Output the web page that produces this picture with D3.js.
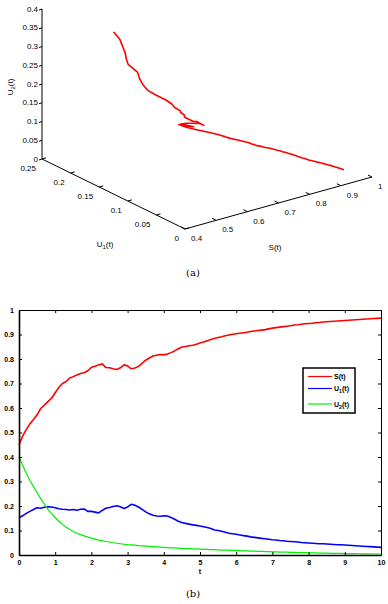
<!DOCTYPE html>
<html lang="en">

<head>
    <meta charset="utf-8">
    <script src="https://d3js.org/d3.v7.min.js"></script>
    <title>S(t), U1(t), U2(t)</title>
    <style>
        body {
            margin: 0;
            padding: 0;
            background: #fff;
        }

        text {
            font-family: "Liberation Sans", Arial, sans-serif;
            fill: #000;
        }

        .caption {
            font-family: "DejaVu Serif", "Liberation Serif", serif;
            font-size: 10px;
        }
    </style>
</head>

<body>
    <svg id="chart" width="388" height="604"></svg>
    <script>

        // Time grid (step 0.1) and the three series
        var times = d3.range(0, 101).map(function (i) { return i / 10; });

        var sValues = [
            0.450, 0.485, 0.512, 0.535, 0.553, 0.572, 0.598, 0.612, 0.626, 0.640,
            0.662, 0.684, 0.700, 0.708, 0.722, 0.728, 0.735, 0.741, 0.744, 0.752,
            0.766, 0.770, 0.776, 0.780, 0.765, 0.764, 0.760, 0.757, 0.764, 0.776,
            0.772, 0.760, 0.763, 0.770, 0.782, 0.795, 0.804, 0.812, 0.815, 0.818,
            0.817, 0.820, 0.826, 0.833, 0.842, 0.849, 0.851, 0.854, 0.856, 0.860,
            0.865, 0.869, 0.874, 0.880, 0.884, 0.888, 0.891, 0.895, 0.898, 0.901,
            0.903, 0.905, 0.907, 0.909, 0.912, 0.914, 0.916, 0.918, 0.920, 0.923,
            0.926, 0.928, 0.930, 0.932, 0.934, 0.936, 0.939, 0.940, 0.942, 0.944,
            0.945, 0.946, 0.948, 0.949, 0.951, 0.952, 0.953, 0.954, 0.955, 0.956,
            0.957, 0.958, 0.959, 0.960, 0.961, 0.962, 0.963, 0.964, 0.965, 0.966,
            0.967
        ];

        var u1Values = [
            0.152, 0.160, 0.170, 0.178, 0.186, 0.193, 0.191, 0.195, 0.197, 0.196,
            0.193, 0.189, 0.187, 0.186, 0.184, 0.186, 0.183, 0.187, 0.188, 0.178,
            0.178, 0.175, 0.172, 0.182, 0.191, 0.194, 0.198, 0.201, 0.197, 0.190,
            0.196, 0.207, 0.203, 0.196, 0.186, 0.176, 0.168, 0.162, 0.159, 0.158,
            0.160, 0.159, 0.153, 0.146, 0.138, 0.133, 0.129, 0.126, 0.123, 0.121,
            0.118, 0.115, 0.112, 0.108, 0.102, 0.100, 0.097, 0.093, 0.089, 0.087,
            0.085, 0.082, 0.079, 0.077, 0.074, 0.072, 0.070, 0.068, 0.066, 0.064,
            0.062, 0.061, 0.059, 0.058, 0.056, 0.055, 0.054, 0.053, 0.051, 0.050,
            0.049, 0.048, 0.047, 0.046, 0.046, 0.045, 0.044, 0.043, 0.042, 0.042,
            0.041, 0.040, 0.039, 0.038, 0.037, 0.036, 0.035, 0.034, 0.033, 0.032,
            0.031
        ];

        var u2Values = [
            0.400, 0.366, 0.334, 0.305, 0.279, 0.255, 0.230, 0.207, 0.186, 0.168,
            0.152, 0.138, 0.125, 0.114, 0.104, 0.096, 0.089, 0.083, 0.078, 0.073,
            0.069, 0.065, 0.061, 0.058, 0.055, 0.053, 0.050, 0.048, 0.046, 0.044,
            0.042, 0.041, 0.040, 0.038, 0.037, 0.036, 0.035, 0.034, 0.033, 0.032,
            0.031, 0.030, 0.029, 0.029, 0.028, 0.027, 0.026, 0.026, 0.025, 0.025,
            0.024, 0.023, 0.023, 0.022, 0.022, 0.021, 0.020, 0.020, 0.019, 0.019,
            0.018, 0.018, 0.017, 0.017, 0.016, 0.016, 0.015, 0.015, 0.014, 0.014,
            0.013, 0.013, 0.012, 0.012, 0.012, 0.011, 0.011, 0.010, 0.010, 0.010,
            0.009, 0.009, 0.009, 0.008, 0.008, 0.008, 0.007, 0.007, 0.007, 0.007,
            0.006, 0.006, 0.006, 0.006, 0.005, 0.005, 0.005, 0.005, 0.004, 0.004,
            0.004
        ];

        // tick labels
        var sTicks = [0.4, 0.5, 0.6, 0.7, 0.8, 0.9, 1];
        var u1Ticks = [0, 0.05, 0.1, 0.15, 0.2, 0.25];
        var u2Ticks = [0, 0.05, 0.1, 0.15, 0.2, 0.25, 0.3, 0.35, 0.4];
        var tTicks = [0, 1, 2, 3, 4, 5, 6, 7, 8, 9, 10];
        var yTicks = [0, 0.1, 0.2, 0.3, 0.4, 0.5, 0.6, 0.7, 0.8, 0.9, 1];

        var seriesNames = ["S", "U1", "U2"];
        var seriesColors = ["#ff0000", "#0000ff", "#00ee00"];

        var svg = d3.select("#chart");

        // subscript helper: "U1" -> U with subscript 1, then "(t)"
        function label(sel, name) {
            sel.append("tspan").text(name.charAt(0));
            if (name.length > 1) {
                sel.append("tspan").attr("dy", 2).style("font-size", "0.75em").text(name.slice(1));
                sel.append("tspan").attr("dy", -2).text("(t)");
            } else {
                sel.append("tspan").text("(t)");
            }
        }

        var fmt = function (d) { return d3.format("")(d); };

        // ---------------- (a) 3D trajectory ----------------
        var g3 = svg.append("g");
        var ox = 185, oy = 229;
        var sx = d3.scaleLinear().domain([0.4, 1]).range([0, 187]);
        var sy = d3.scaleLinear().domain([0.4, 1]).range([0, -52]);
        var ux = d3.scaleLinear().domain([0, 0.25]).range([0, -143]);
        var uy = d3.scaleLinear().domain([0, 0.25]).range([0, -70]);
        var zy = d3.scaleLinear().domain([0, 0.4]).range([0, -150]);

        function proj(s, u1, u2) {
            return [ox + sx(s) + ux(u1), oy + sy(s) + uy(u1) + zy(u2)];
        }

        function seg(a, b) {
            g3.append("line")
                .attr("x1", a[0]).attr("y1", a[1])
                .attr("x2", b[0]).attr("y2", b[1])
                .attr("stroke", "#000").attr("stroke-width", 1);
        }

        // axis lines
        seg(proj(0.4, 0, 0), proj(1, 0, 0));
        seg(proj(0.4, 0, 0), proj(0.4, 0.25, 0));
        seg(proj(0.4, 0.25, 0), proj(0.4, 0.25, 0.4));

        // S axis ticks + labels
        sTicks.forEach(function (s) {
            var p = proj(s, 0, 0);
            seg(p, proj(s, 0.007, 0));
            g3.append("text").attr("x", p[0] + 6).attr("y", p[1] + 12)
                .style("font-size", "8px").text(fmt(s));
        });

        // U1 axis ticks + labels
        u1Ticks.forEach(function (u) {
            var p = proj(0.4, u, 0);
            seg(p, proj(0.413, u, 0));
            g3.append("text").attr("x", p[0] - 6).attr("y", p[1] + 12)
                .attr("text-anchor", "end")
                .style("font-size", "8px").text(fmt(u));
        });

        // U2 axis ticks + labels
        u2Ticks.forEach(function (z) {
            var p = proj(0.4, 0.25, z);
            seg(p, [p[0] - 3, p[1] + 1]);
            g3.append("text").attr("x", p[0] - 4).attr("y", p[1] + 2.5)
                .attr("text-anchor", "end")
                .style("font-size", "8px").text(fmt(z));
        });

        // axis titles
        g3.append("text").attr("x", 275).attr("y", 250).attr("text-anchor", "middle")
            .style("font-size", "8px").call(label, "S");
        g3.append("text").attr("x", 105).attr("y", 247).attr("text-anchor", "middle")
            .style("font-size", "8px").call(label, "U1");
        g3.append("text").attr("transform", "translate(13,87) rotate(-90)")
            .attr("text-anchor", "middle")
            .style("font-size", "8px").call(label, "U2");

        var line3 = d3.line()
            .x(function (i) { return proj(sValues[i], u1Values[i], u2Values[i])[0]; })
            .y(function (i) { return proj(sValues[i], u1Values[i], u2Values[i])[1]; });

        g3.append("path")
            .datum(d3.range(times.length))
            .attr("d", line3)
            .attr("fill", "none")
            .attr("stroke", "#ff0000")
            .attr("stroke-width", 1.6)
            .attr("stroke-linejoin", "round");

        svg.append("text").attr("class", "caption")
            .attr("x", 193).attr("y", 276).attr("text-anchor", "middle").text("(a)");

        // ---------------- (b) time series ----------------
        var plotL = 19, plotR = 381, plotT = 310, plotB = 555;
        var x = d3.scaleLinear().domain([0, 10]).range([plotL, plotR]);
        var y = d3.scaleLinear().domain([0, 1]).range([plotB, plotT]);
        var gb = svg.append("g");

        var series = [sValues, u1Values, u2Values];
        series.forEach(function (vals, k) {
            gb.append("path")
                .datum(vals)
                .attr("d", d3.line()
                    .x(function (d, i) { return x(times[i]); })
                    .y(function (d) { return y(d); }))
                .attr("fill", "none")
                .attr("stroke", seriesColors[k])
                .attr("stroke-width", k == 2 ? 1.2 : 1.6)
                .attr("stroke-linejoin", "round");
        });

        // axes, MATLAB style: inward ticks on all four sides
        gb.append("g").attr("transform", "translate(0," + plotB + ")")
            .call(d3.axisBottom(x).tickValues(tTicks).tickSizeInner(-3).tickSizeOuter(0).tickPadding(5))
            .call(function (a) { a.select(".domain").attr("stroke-width", 1.6); });
        gb.append("g").attr("transform", "translate(0," + plotT + ")")
            .call(d3.axisTop(x).tickValues(tTicks).tickSizeInner(-3).tickSizeOuter(0).tickFormat(""));
        gb.append("g").attr("transform", "translate(" + plotL + ",0)")
            .call(d3.axisLeft(y).tickValues(yTicks).tickSizeInner(-3).tickSizeOuter(0).tickPadding(5).tickFormat(fmt))
            .call(function (a) { a.select(".domain").attr("stroke-width", 1.6); });
        gb.append("g").attr("transform", "translate(" + plotR + ",0)")
            .call(d3.axisRight(y).tickValues(yTicks).tickSizeInner(-3).tickSizeOuter(0).tickFormat(""));

        gb.selectAll(".tick text")
            .style("font-family", "'Liberation Sans', Arial, sans-serif")
            .style("font-size", "7px")
            .style("font-weight", "bold");

        gb.append("text").attr("x", x(5)).attr("y", 574).attr("text-anchor", "middle")
            .style("font-size", "7px").style("font-weight", "bold").text("t");

        // legend
        var lg = gb.append("g");
        lg.append("rect").attr("x", 303).attr("y", 368).attr("width", 52).attr("height", 45)
            .attr("fill", "#fff").attr("stroke", "#000").attr("stroke-width", 1.5);
        var legendY = [376.5, 388.5, 404];
        seriesNames.forEach(function (n, k) {
            lg.append("line").attr("x1", 308).attr("x2", 332)
                .attr("y1", legendY[k]).attr("y2", legendY[k])
                .attr("stroke", seriesColors[k]).attr("stroke-width", 1.2);
            lg.append("text").attr("x", 334).attr("y", legendY[k] + 2.5)
                .style("font-size", "7px").style("font-weight", "bold").call(label, n);
        });

        svg.append("text").attr("class", "caption")
            .attr("x", 193).attr("y", 597).attr("text-anchor", "middle").text("(b)");

    </script>
</body>

</html>
